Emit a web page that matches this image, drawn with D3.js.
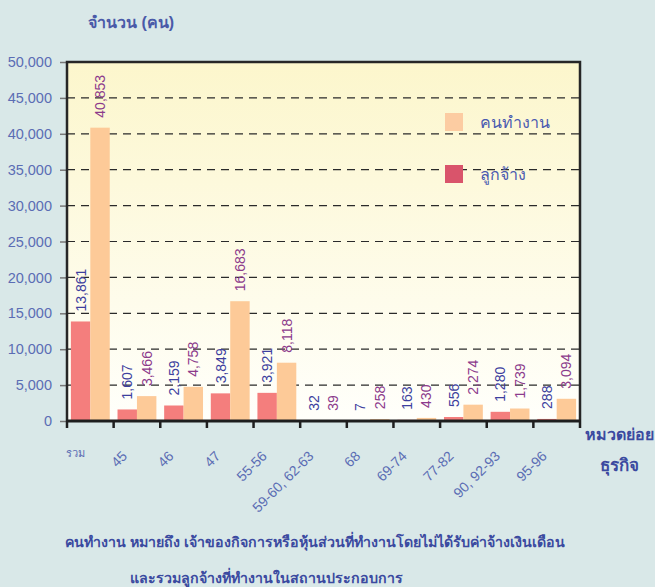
<!DOCTYPE html>
<html>
<head>
<meta charset="utf-8">
<script src="https://cdn.jsdelivr.net/npm/d3@7"></script>
<style>
  body { margin: 0; background: #d9e8e8; }
  svg { display: block; font-family: "Liberation Sans", "Noto Sans", sans-serif; }
</style>
</head>
<body>
<div id="chart"></div>
<script>
// categories (business sub-groups) and the two series
const categories = ["รวม", "45", "46", "47", "55-56", "59-60, 62-63", "68", "69-74", "77-82", "90, 92-93", "95-96"];
const employees = [13861, 1607, 2159, 3849, 3921, 32, 7, 163, 556, 1280, 288]; // ลูกจ้าง
const workers = [40853, 3466, 4758, 16683, 8118, 39, 258, 430, 2274, 1739, 3094]; // คนทำงาน
const seriesNames = ["ลูกจ้าง", "คนทำงาน"];
const yTicks = [0, 5000, 10000, 15000, 20000, 25000, 30000, 35000, 40000, 45000, 50000];

const width = 655, height = 587;
const margin = { top: 62, right: 75, bottom: 166, left: 67 };
const innerW = width - margin.left - margin.right;
const innerH = height - margin.top - margin.bottom;

const barColors = { "ลูกจ้าง": "#f47e7d", "คนทำงาน": "#fdca98" };
const legendColors = { "ลูกจ้าง": "#d9546b", "คนทำงาน": "#fccca2" };
const labelColors = { "ลูกจ้าง": "#3d3f9e", "คนทำงาน": "#8c3b8c" };

const data = categories.map((c, i) => ({
  category: c,
  values: [
    { key: seriesNames[0], value: employees[i] },
    { key: seriesNames[1], value: workers[i] },
  ],
}));

const svg = d3.select("#chart").append("svg")
  .attr("width", width)
  .attr("height", height);

// plot background gradient
const defs = svg.append("defs");
const grad = defs.append("linearGradient")
  .attr("id", "bg").attr("x1", 0).attr("y1", 0).attr("x2", 0).attr("y2", 1);
grad.append("stop").attr("offset", "0%").attr("stop-color", "#fcf6cc");
grad.append("stop").attr("offset", "100%").attr("stop-color", "#fffffb");

const g = svg.append("g").attr("transform", `translate(${margin.left},${margin.top})`);

g.append("rect")
  .attr("width", innerW).attr("height", innerH)
  .attr("fill", "url(#bg)");

const x0 = d3.scaleBand().domain(categories).range([0, innerW]).padding(0);
const x1 = d3.scaleBand().domain(seriesNames).range([0, x0.bandwidth()]).paddingInner(0).paddingOuter(0.2);
const y = d3.scaleLinear().domain([0, 50000]).range([innerH, 0]);

// dashed gridlines
g.selectAll(".grid")
  .data(yTicks.filter((t) => t > 0 && t < 50000))
  .enter().append("line")
  .attr("x1", 0).attr("x2", innerW)
  .attr("y1", (d) => y(d)).attr("y2", (d) => y(d))
  .attr("stroke", "#2a2a2a").attr("stroke-width", 1.2)
  .attr("stroke-dasharray", "8,6");

// y axis ticks and labels
const yAxis = g.append("g")
  .call(d3.axisLeft(y).tickValues(yTicks).tickSize(7).tickPadding(8).tickFormat(d3.format(",")));
yAxis.select(".domain").remove();
yAxis.selectAll(".tick line").attr("stroke", "#777").attr("stroke-width", 1.5);
yAxis.selectAll(".tick text")
  .attr("fill", "#5b6db4").style("font-size", "14.5px");

// bars
const groups = g.selectAll(".group")
  .data(data).enter().append("g")
  .attr("transform", (d) => `translate(${x0(d.category)},0)`);

groups.selectAll("rect")
  .data((d) => d.values).enter().append("rect")
  .attr("x", (d) => x1(d.key))
  .attr("width", x1.bandwidth())
  .attr("y", (d) => y(d.value))
  .attr("height", (d) => innerH - y(d.value))
  .attr("fill", (d) => barColors[d.key]);

// value labels (rotated)
groups.selectAll(".vlabel")
  .data((d) => d.values).enter().append("text")
  .attr("transform", (d) => `translate(${x1(d.key) + x1.bandwidth() / 2 + 5},${y(d.value) - 10}) rotate(-90)`)
  .attr("fill", (d) => labelColors[d.key])
  .style("font-size", "14px")
  .text((d) => d3.format(",")(d.value));

// frame: left, top, right, bottom
g.append("path")
  .attr("d", `M0,${innerH}V0H${innerW}V${innerH}`)
  .attr("fill", "none").attr("stroke", "#262626").attr("stroke-width", 2.5);

// x axis
const xAxis = g.append("g")
  .attr("transform", `translate(0,${innerH})`);
xAxis.append("line")
  .attr("x1", -1).attr("x2", innerW + 1)
  .attr("stroke", "#1e1e1e").attr("stroke-width", 3);
xAxis.selectAll(".xtick")
  .data(categories.map((c) => x0(c)).concat([innerW]))
  .enter().append("line")
  .attr("x1", (d) => d).attr("x2", (d) => d)
  .attr("y1", 0).attr("y2", 7)
  .attr("stroke", "#1e1e1e").attr("stroke-width", 2.5);

xAxis.selectAll(".xlabel")
  .data(categories).enter().append("text")
  .attr("transform", (d, i) =>
    i === 0
      ? `translate(${x0(d) + x0.bandwidth() / 2 - 5},36)`
      : `translate(${x0(d) + x0.bandwidth() / 2 - 9},36) rotate(-45)`)
  .attr("text-anchor", "end")
  .attr("fill", "#5b6db4")
  .style("font-size", (d, i) => (i === 0 ? "11px" : "14px"))
  .text((d) => d);

// titles
svg.append("text")
  .attr("x", 88).attr("y", 28)
  .attr("fill", "#4a5aa8").style("font-size", "16px").style("font-weight", "bold")
  .text("จำนวน (คน)");

svg.append("text")
  .attr("x", 619).attr("y", 440)
  .attr("text-anchor", "middle")
  .attr("fill", "#3b4aa0").style("font-size", "16px").style("font-weight", "bold")
  .text("หมวดย่อย");
svg.append("text")
  .attr("x", 619).attr("y", 471)
  .attr("text-anchor", "middle")
  .attr("fill", "#3b4aa0").style("font-size", "17px").style("font-weight", "bold")
  .text("ธุรกิจ");

// legend
const legend = svg.append("g").attr("transform", "translate(445,113)");
const legendItems = legend.selectAll("g")
  .data(["คนทำงาน", "ลูกจ้าง"]).enter().append("g")
  .attr("transform", (d, i) => `translate(0,${i * 52})`);
legendItems.append("rect")
  .attr("width", 18).attr("height", 18)
  .attr("fill", (d) => legendColors[d]);
legendItems.append("text")
  .attr("x", 35).attr("y", 15)
  .attr("fill", "#4a5ab0").style("font-size", "16px")
  .text((d) => d);

// footnote
svg.append("text")
  .attr("x", 65).attr("y", 547)
  .attr("fill", "#3b4aa0").style("font-size", "14.2px").style("font-weight", "bold")
  .text("คนทำงาน หมายถึง เจ้าของกิจการหรือหุ้นส่วนที่ทำงานโดยไม่ได้รับค่าจ้างเงินเดือน");
svg.append("text")
  .attr("x", 130).attr("y", 583)
  .attr("fill", "#3b4aa0").style("font-size", "14.2px").style("font-weight", "bold")
  .text("และรวมลูกจ้างที่ทำงานในสถานประกอบการ");
</script>
</body>
</html>
